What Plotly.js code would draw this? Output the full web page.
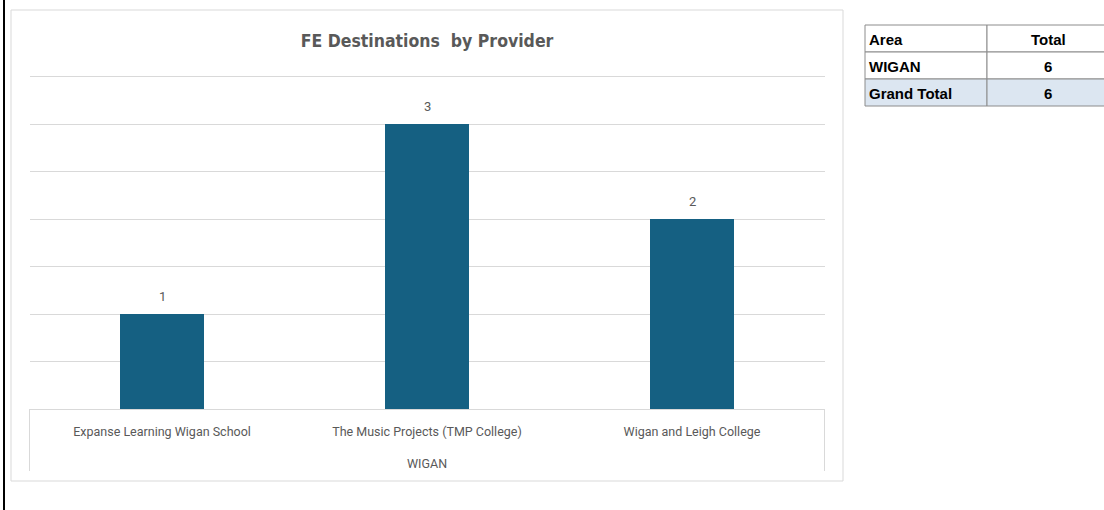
<!DOCTYPE html>
<html>
<head>
<meta charset="utf-8">
<script src="https://cdn.plot.ly/plotly-3.0.1.min.js"></script>
<style>
html,body{margin:0;padding:0;background:#fff;}
#chart{width:1104px;height:510px;}
</style>
</head>
<body>
<div id="chart"></div>
<script>
// ---- data ----
const chartTitle = "FE Destinations  by Provider";
const areaLabel = "WIGAN";
const providers = ["Expanse Learning Wigan School", "The Music Projects (TMP College)", "Wigan and Leigh College"];
const destinations = [1, 3, 2];

const tableHeader = ["Area", "Total"];
const tableAreas = ["WIGAN", "Grand Total"];
const tableTotals = [6, 6];

// ---- layout helpers (pixel -> paper) ----
const W = 1104, H = 510;
const px = x => x / W;
const py = y => 1 - y / H;

const labelFont = {family: "Roboto, Liberation Sans, sans-serif", size: 12.5, color: "#595959"};

const barTrace = {
  type: "bar",
  x: providers,
  y: destinations,
  marker: {color: "#156082"},
  hoverinfo: "none"
};

// data labels above the bars
const valueAnnotations = providers.map((p, i) => ({
  xref: "x", yref: "y", x: p, y: destinations[i],
  text: String(destinations[i]),
  showarrow: false, yanchor: "bottom", yshift: 8,
  font: {family: "Roboto, Liberation Sans, sans-serif", size: 13, color: "#595959"}
}));

// ---- table (drawn with shapes + text) ----
const tX = [865, 987, 1110];
const tY = [25, 52, 79, 106];
const tableRows = [tableHeader].concat(tableAreas.map((a, i) => [a, String(tableTotals[i])]));
const tableShapes = [];
const tableAnnotations = [];
tableRows.forEach((row, r) => {
  const fill = r === tableRows.length - 1 ? "#dce6f1" : "#ffffff";
  for (let c = 0; c < 2; c++) {
    tableShapes.push({type: "rect", xref: "paper", yref: "paper",
      x0: px(tX[c]), x1: px(tX[c + 1]), y0: py(tY[r + 1]), y1: py(tY[r]),
      line: {color: "#8c8c8c", width: 1}, fillcolor: fill, layer: "below"});
    tableAnnotations.push({xref: "paper", yref: "paper",
      x: c === 0 ? px(tX[0] + 2) : px(1048), xanchor: c === 0 ? "left" : "center",
      y: py((tY[r] + tY[r + 1]) / 2 + 1), yanchor: "middle",
      text: "<b>" + row[c] + "</b>", showarrow: false,
      font: {family: "Liberation Sans, Arial, sans-serif", size: 15, color: "#000000"}});
  }
});

// y scale: 95 px per unit, baseline at y=409 px
const yMax = 3.56;
const yTopPx = 409 - yMax * 95;

const layout = {
  width: W, height: H,
  margin: {l: 0, r: 0, t: 0, b: 0},
  paper_bgcolor: "#ffffff",
  plot_bgcolor: "#ffffff",
  showlegend: false,
  bargap: 0.683,
  title: {
    text: "<b>" + chartTitle + "</b>",
    x: px(427), xanchor: "center",
    y: py(41), yanchor: "middle",
    font: {family: "Liberation Sans Narrow, DejaVu Sans Condensed, Roboto, sans-serif", size: 17.5, color: "#595959"}
  },
  xaxis: {
    type: "category",
    domain: [px(29.5), px(824.5)],
    showline: true, linecolor: "#d9d9d9", linewidth: 1,
    showgrid: false,
    tickfont: labelFont,
    ticks: "",
    ticklabelstandoff: 11,
    fixedrange: true
  },
  yaxis: {
    domain: [py(409), py(yTopPx)],
    range: [0, yMax],
    tick0: 0,
    dtick: 0.5,
    showticklabels: false,
    showgrid: true, gridcolor: "#d9d9d9", gridwidth: 1,
    zeroline: false,
    showline: false,
    ticks: "",
    fixedrange: true
  },
  annotations: valueAnnotations.concat([
    {xref: "paper", yref: "paper", x: px(427), y: py(463), xanchor: "center", yanchor: "middle",
     text: areaLabel, showarrow: false, font: labelFont}
  ]).concat(tableAnnotations),
  shapes: [
    {type: "rect", xref: "paper", yref: "paper", x0: px(11), x1: px(843), y0: py(481), y1: py(10),
     line: {color: "#d9d9d9", width: 1}, fillcolor: "rgba(0,0,0,0)", layer: "below"},
    {type: "line", xref: "paper", yref: "paper", x0: px(29.5), x1: px(29.5), y0: py(471), y1: py(409),
     line: {color: "#d9d9d9", width: 1}},
    {type: "line", xref: "paper", yref: "paper", x0: px(824.5), x1: px(824.5), y0: py(471), y1: py(409),
     line: {color: "#d9d9d9", width: 1}},
    {type: "line", xref: "paper", yref: "paper", x0: px(4), x1: px(4), y0: 0, y1: 1,
     line: {color: "#000000", width: 2}}
  ].concat(tableShapes)
};

Plotly.newPlot("chart", [barTrace], layout, {displayModeBar: false, staticPlot: true});
</script>
</body>
</html>
